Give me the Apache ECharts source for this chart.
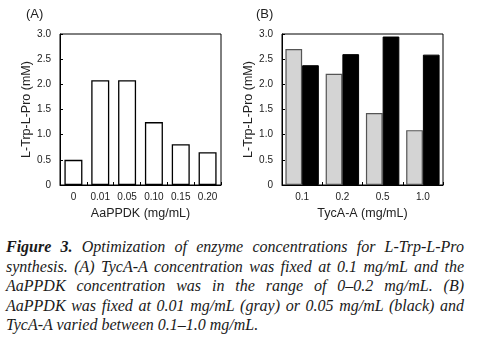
<!DOCTYPE html>
<html>
<head>
<meta charset="utf-8">
<script src="https://cdn.jsdelivr.net/npm/echarts@6/dist/echarts.min.js"></script>
<style>
  html, body { margin: 0; padding: 0; background: #fff; }
  #wrap { position: relative; width: 479px; height: 349px; overflow: hidden; }
  #chart { position: absolute; left: 0; top: 0; width: 479px; height: 232px; }
  #caption { position: absolute; left: 6px; top: 237px; width: 458px;
    font-family: "Liberation Serif", "Times New Roman", serif; font-style: italic;
    font-size: 16px; line-height: 19.6px; color: #1a1a1a; }
  #caption .ln { text-align: justify; text-align-last: justify; white-space: nowrap; }
  #caption .last { text-align: left; text-align-last: left; }
</style>
</head>
<body>
<div id="wrap">
  <div id="chart"></div>
  <div id="caption">
    <div class="ln"><b>Figure 3.</b> Optimization of enzyme concentrations for L-Trp-L-Pro</div>
    <div class="ln">synthesis. (A) TycA-A concentration was fixed at 0.1 mg/mL and the</div>
    <div class="ln">AaPPDK concentration was in the range of 0–0.2 mg/mL. (B)</div>
    <div class="ln">AaPPDK was fixed at 0.01 mg/mL (gray) or 0.05 mg/mL (black) and</div>
    <div class="ln last">TycA-A varied between 0.1–1.0 mg/mL.</div>
  </div>
</div>
<script>
// Panel A: product yield vs. AaPPDK concentration (TycA-A fixed at 0.1 mg/mL)
const ppdkCategories = ['0', '0.01', '0.05', '0.10', '0.15', '0.20'];
const ppdkYield = [0.50, 2.08, 2.08, 1.25, 0.81, 0.65];

// Panel B: product yield vs. TycA-A concentration at two AaPPDK levels
const tycaCategories = ['0.1', '0.2', '0.5', '1.0'];
const yieldPpdk001 = [2.70, 2.21, 1.43, 1.09];   // gray
const yieldPpdk005 = [2.38, 2.60, 2.95, 2.59];   // black

// Y-axis tick labels (0 to 3.0 in steps of 0.5)
const yTickLabels = ['0', '0.5', '1.0', '1.5', '2.0', '2.5', '3.0'];

const axisFont = 'Liberation Sans, Arial, sans-serif';
const textColor = '#222';

function yAxis(gridIndex, nameGap) {
  return {
    gridIndex: gridIndex, type: 'value', min: 0, max: 3, interval: 0.5,
    name: 'L-Trp-L-Pro (mM)', nameLocation: 'middle', nameGap: nameGap, nameRotate: 90,
    nameTextStyle: { fontFamily: axisFont, fontSize: 12.5, color: textColor },
    axisLine: { show: true, lineStyle: { color: '#000', width: 1 } },
    axisTick: { show: true, inside: true, length: 3, lineStyle: { color: '#000' } },
    axisLabel: { fontFamily: axisFont, fontSize: 10, color: textColor, margin: 9,
      formatter: (v) => yTickLabels[Math.round(v / 0.5)] },
    splitLine: { show: false }
  };
}

function xAxis(gridIndex, cats, name) {
  return {
    gridIndex: gridIndex, type: 'category', data: cats,
    name: name, nameLocation: 'middle', nameGap: 20,
    nameTextStyle: { fontFamily: axisFont, fontSize: 12.5, color: textColor },
    axisLine: { show: true, lineStyle: { color: '#000', width: 1 } },
    axisTick: { show: true, inside: true, length: 3, lineStyle: { color: '#000' } },
    axisLabel: { fontFamily: axisFont, fontSize: 10, color: textColor, margin: 7 },
    splitLine: { show: false }
  };
}

const chart = echarts.init(document.getElementById('chart'), null, { renderer: 'canvas' });
chart.setOption({
  animation: false,
  backgroundColor: '#fff',
  graphic: [
    { type: 'text', left: 26, top: 8, style: { text: '(A)', fontFamily: axisFont, fontSize: 13, fill: textColor } },
    { type: 'text', left: 256, top: 8, style: { text: '(B)', fontFamily: axisFont, fontSize: 13, fill: textColor } }
  ],
  grid: [
    { left: 60, top: 34, width: 161, height: 151, show: true, borderColor: '#000', borderWidth: 1, backgroundColor: 'transparent' },
    { left: 282, top: 34, width: 161, height: 151, show: true, borderColor: '#000', borderWidth: 1, backgroundColor: 'transparent' }
  ],
  xAxis: [
    xAxis(0, ppdkCategories, 'AaPPDK (mg/mL)'),
    xAxis(1, tycaCategories, 'TycA-A (mg/mL)')
  ],
  yAxis: [yAxis(0, 24), yAxis(1, 24)],
  series: [
    { type: 'bar', xAxisIndex: 0, yAxisIndex: 0, data: ppdkYield, barWidth: 18,
      itemStyle: { color: '#fff', borderColor: '#000', borderWidth: 1.3 } },
    { type: 'bar', xAxisIndex: 1, yAxisIndex: 1, data: yieldPpdk001, barGap: '0%', barCategoryGap: '17%',
      itemStyle: { color: '#d4d4d4', borderColor: '#555', borderWidth: 1.2 } },
    { type: 'bar', xAxisIndex: 1, yAxisIndex: 1, data: yieldPpdk005, barGap: '0%', barCategoryGap: '17%',
      itemStyle: { color: '#000', borderColor: '#000', borderWidth: 1 } }
  ]
});
</script>
</body>
</html>
